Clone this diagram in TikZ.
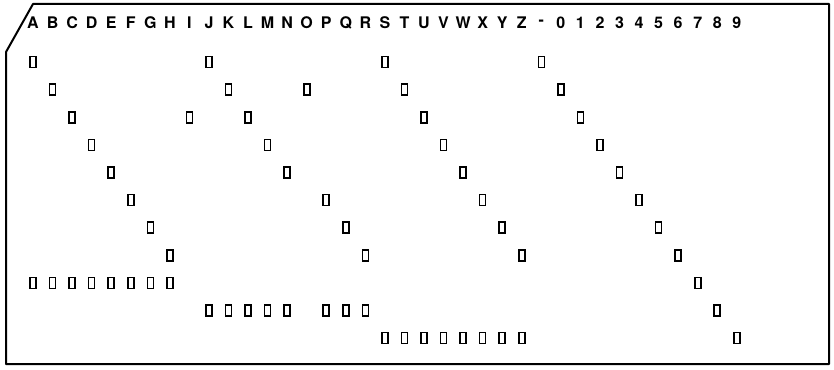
\documentclass[tikz,border=0pt]{standalone}
\usepackage{fontspec}
\setmainfont{TeX Gyre Heros}
\begin{document}
\begin{tikzpicture}[x=1pt,y=-1pt,
  card/.style={draw, line width=2pt, line join=round},
  hole/.style={rectangle, draw, line width=1.6pt, minimum width=6pt, minimum height=11pt, inner sep=0pt},
  charlabel/.style={font=\fontsize{16}{16}\selectfont\bfseries, inner sep=0pt}
]
  \useasboundingbox (0,0) rectangle (834,369);
  \draw[card] (33,4) -- (829,4) -- (829,364) -- (6,364) -- (6,52) -- cycle;

  % printed characters along the top edge
  \foreach \c [count=\i] in {A,B,C,D,E,F,G,H,I,J,K,L,M,N,O,P,Q,R,S,T,U,V,W,X,Y,Z,-,0,1,2,3,4,5,6,7,8,9}
    \node[charlabel] (char\i) at ({33+(\i-1)*19.55},23) {\c};

  % punched holes: column/row
  \foreach \col/\row in {1/1,1/9,2/2,2/9,3/3,3/9,4/4,4/9,5/5,5/9,6/6,6/9,7/7,7/9,8/8,8/9,
      9/3,
      10/1,10/10,11/2,11/10,12/3,12/10,13/4,13/10,14/5,14/10,
      15/2,
      16/6,16/10,17/7,17/10,18/8,18/10,
      19/1,19/11,20/2,20/11,21/3,21/11,22/4,22/11,23/5,23/11,24/6,24/11,25/7,25/11,26/8,26/11,
      27/1,28/2,29/3,30/4,31/5,32/6,33/7,34/8,35/9,36/10,37/11}
    \node[hole] (h\col-\row) at ({33+(\col-1)*19.55},{62+(\row-1)*27.6}) {};
\end{tikzpicture}
\end{document}
